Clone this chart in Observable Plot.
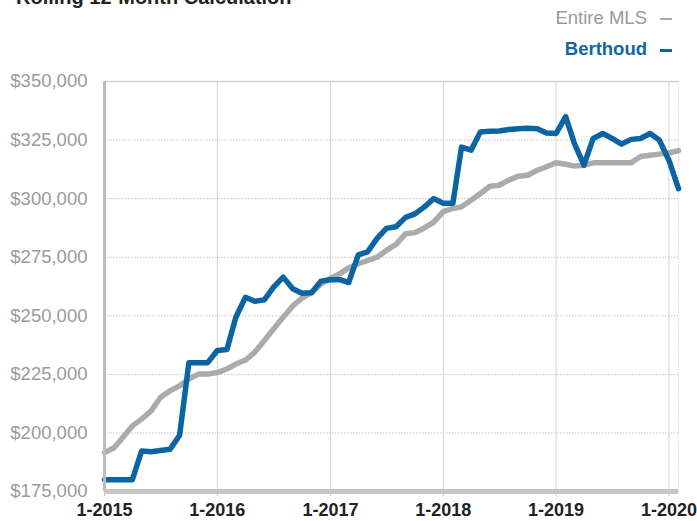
<!DOCTYPE html>
<html><head><meta charset="utf-8">
<script src="https://cdn.jsdelivr.net/npm/d3@7"></script>
<script src="https://cdn.jsdelivr.net/npm/@observablehq/plot@0.6"></script>
<style>
body{margin:0;background:#fff;font-family:"Liberation Sans",Arial,sans-serif;}
#wrap{position:relative;width:697px;height:521px;overflow:hidden;}
#title{position:absolute;left:16px;top:-13px;font-size:20px;line-height:20px;font-weight:bold;color:#222;white-space:nowrap}
.leg{position:absolute;right:25px;font-size:18.5px;line-height:20px;white-space:nowrap}
.dash{display:inline-block;width:12px;vertical-align:middle;margin-left:13px}
</style></head><body>
<div id="wrap"><div id="chart"></div><div id="title">Rolling 12-Month Calculation</div><div id="legend"></div></div>
<script>
// Data (monthly rolling 12-month median price, Jan 2015 - Feb 2020)
const seriesNames = ["Entire MLS", "Berthoud"];
const seriesColors = ["#ababab", "#0d64a3"];
const legendTextColors = ["#999999", "#1266a6"];
const entireMLS = [191.6,193.7,198,203,205.9,209.4,215.1,218,220.1,223,225.1,225.1,
  225.8,227.3,229.4,231.1,234.4,239.4,244.4,249.4,254.2,257.5,260,263.5,
  266,268,270.5,272.2,273.6,275,277.9,280.5,285,285.5,287.5,290,
  294.5,295.8,296.5,299.3,302.2,305.3,305.7,307.9,309.6,310,312.1,313.6,
  315.3,314.7,313.9,314.3,315.3,315.3,315.3,315.3,315.3,318,318.5,319,
  319.5,320.5];
const berthoud = [180,180,180,180,192.3,192,192.5,193,199,230,230,230,
  235.2,235.6,249.4,257.9,256.2,256.8,262.2,266.5,261.5,259.6,259.8,264.8,
  265.4,265.4,264.2,276,277.3,283,287.3,288,292,293.5,296.5,300,
  298,298,322,320.7,328.5,328.8,328.9,329.5,329.8,330,329.8,328,
  327.8,335,323.6,314.3,325.7,327.8,325.7,323.3,325.3,325.7,327.8,325,
  316.4,304.3];
const yTicks = [175000,200000,225000,250000,275000,300000,325000,350000];
const yearTicks = [2015,2016,2017,2018,2019,2020];

const start = new Date(Date.UTC(2015,0,1));
const months = berthoud.map((_, i) => d3.utcMonth.offset(start, i));
const rows = [];
[entireMLS, berthoud].forEach((arr, s) => arr.forEach((v, i) => rows.push({series: seriesNames[s], date: months[i], value: v * 1000})));
const xTicks = yearTicks.map(y => new Date(Date.UTC(y,0,1)));

const chart = Plot.plot({
  width: 697, height: 521,
  marginTop: 81, marginBottom: 30, marginLeft: 104, marginRight: 19,
  x: {type: "utc", domain: [months[0], months[months.length-1]]},
  y: {domain: [yTicks[0], yTicks[yTicks.length-1]]},
  style: {fontFamily: "'Liberation Sans', Arial, sans-serif", background: "white", overflow: "visible"},
  marks: [
    Plot.gridY(yTicks.slice(1, -1), {stroke: "#c4c4c4", strokeOpacity: 1, strokeDasharray: "1.5,1.5"}),
    Plot.gridX(xTicks.slice(1), {stroke: "#d4d4d4", strokeOpacity: 1}),
    Plot.ruleY([yTicks[yTicks.length-1]], {stroke: "#d0d0d0", strokeWidth: 1.5}),
    Plot.ruleX([months[months.length-1]], {stroke: "#d8d8d8", strokeDasharray: "1.5,1.5"}),
    Plot.line(rows.filter(d => d.series === seriesNames[0]), {x: "date", y: "value", stroke: seriesColors[0], strokeWidth: 5.5}),
    Plot.line(rows.filter(d => d.series === seriesNames[1]), {x: "date", y: "value", stroke: seriesColors[1], strokeWidth: 5.5}),
    Plot.ruleY([yTicks[0]], {stroke: "#c6c6c6", strokeWidth: 5}),
    Plot.ruleX([months[0]], {stroke: "#bdbdbd", strokeWidth: 3}),
    Plot.axisY(yTicks, {tickSize: 0, tickPadding: 17, tickFormat: d => "$" + d3.format(",")(d), fontSize: 18.5, color: "#9a9a9a", label: null}),
    Plot.axisX(xTicks, {tickSize: 5, tickPadding: 7, tickFormat: d => "1-" + d.getUTCFullYear(), fontSize: 18, fontWeight: "bold", fill: "#222", stroke: "#c6c6c6", label: null})
  ]
});
document.getElementById("chart").appendChild(chart);

const legend = document.getElementById("legend");
const legTops = [8, 39];
seriesNames.forEach((name, i) => {
  const div = document.createElement("div");
  div.className = "leg";
  div.style.top = legTops[i] + "px";
  div.style.color = legendTextColors[i];
  if (i === 1) div.style.fontWeight = "600";
  div.textContent = name;
  const dash = document.createElement("span");
  dash.className = "dash";
  dash.style.background = seriesColors[i];
  dash.style.height = (i === 1 ? 3 : 2) + "px";
  div.appendChild(dash);
  legend.appendChild(div);
});
</script>
</body></html>
